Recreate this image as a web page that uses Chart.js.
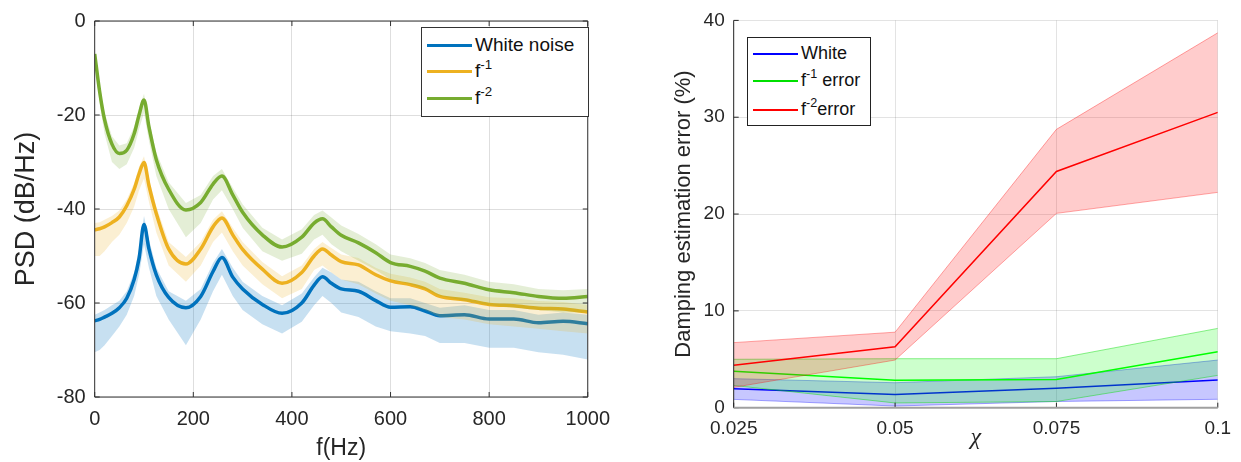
<!DOCTYPE html>
<html>
<head>
<meta charset="utf-8">
<script src="https://cdn.jsdelivr.net/npm/chart.js@4.4.1/dist/chart.umd.min.js"></script>
<style>
  body { margin: 0; background: #fff; width: 1241px; height: 462px; overflow: hidden; position: relative; font-family: 'Liberation Sans', Arial, sans-serif; }
  canvas { position: absolute; top: 0; }
  #psd { left: 0; }
  #damp { left: 640px; }
  .legend { position: absolute; background: #fff; box-sizing: border-box; color: #111; }
  .legend .row { position: absolute; left: 5px; height: 26px; line-height: 26px; white-space: nowrap; }
  .legend .row i { display: inline-block; vertical-align: middle; margin-right: 3px; }
  .legend sup { font-size: 0.7em; line-height: 0; vertical-align: 0.6em; }
  #legPsd { left: 421px; top: 27px; width: 168px; height: 90px; border: 1px solid #333; font-size: 19px; }
  #legPsd .row i { width: 45px; height: 3px; }
  #legDamp { left: 747px; top: 37px; width: 124px; height: 89px; border: 1.5px solid #222; font-size: 18px; }
  #legDamp .row i { width: 45px; height: 2px; }
</style>
</head>
<body>
<canvas id="psd" width="620" height="462"></canvas>
<canvas id="damp" width="601" height="462"></canvas>

<div class="legend" id="legPsd">
  <div class="row" style="top:4px"><i style="background:#0072BD"></i>White noise</div>
  <div class="row" style="top:30px"><i style="background:#EDB120"></i>f<sup>-1</sup></div>
  <div class="row" style="top:57px"><i style="background:#77AC30"></i>f<sup>-2</sup></div>
</div>
<div class="legend" id="legDamp">
  <div class="row" style="top:2px"><i style="background:#0000ff"></i>White</div>
  <div class="row" style="top:29px"><i style="background:#00e000"></i>f<sup>-1</sup> error</div>
  <div class="row" style="top:58px"><i style="background:#ff0000"></i>f<sup>-2</sup>error</div>
</div>

<script>
// ---- PSD panel data (frequency in Hz, level in dB/Hz) ----
const freq = [0, 10, 20, 35, 50, 65, 80, 90, 100, 110, 125, 150, 185, 215, 240, 258, 280, 300, 340, 380,
              420, 445, 462, 480, 500, 535, 570, 600, 640, 670, 700, 750, 800, 850, 900, 950, 1000];

const whiteSmooth = [-63.8, -63.5, -63.0, -62.2, -61.0, -59.0, -55.0, -50.5, -43.3, -48.5, -54.0, -58.8, -61.0, -58.6, -53.3, -50.3, -54.5, -57.0, -60.3, -62.2,
                     -60.0, -56.2, -54.4, -55.8, -57.0, -57.5, -59.5, -60.9, -60.8, -61.7, -62.7, -62.5, -63.4, -63.4, -64.2, -63.9, -64.4];
const whiteHi = [-62.5, -62, -61.5, -60.5, -59.5, -57.5, -53.5, -48.5, -41.5, -46.5, -52.5, -57.5, -59.5, -57, -51.5, -48.5, -52.5, -55.5, -58.5, -60.5,
                 -58, -54.5, -52.5, -53.5, -55, -55.5, -57.5, -59, -59, -60, -61, -60.5, -61.5, -61.5, -62.5, -62, -62.5];
const whiteLo = [-70.5, -70, -69, -67, -65, -62.5, -58.5, -54, -47.5, -52.5, -58.5, -63.5, -69, -63.5, -57.5, -54, -58.5, -61.5, -64.5, -66.5,
                 -64, -60.5, -58.5, -60, -62, -63, -65, -66, -66.5, -67, -68.5, -68.5, -69.5, -69.5, -70.5, -71, -72];

const pink1Smooth = [-44.4, -44.2, -43.8, -42.9, -41.7, -39.3, -35.8, -32.5, -30.1, -35.0, -41.0, -48.5, -51.7, -48.5, -43.8, -41.9, -45.5, -48.6, -52.8, -55.8,
                     -53.5, -50.0, -48.5, -49.8, -51.2, -51.9, -54.0, -55.3, -56.1, -57.0, -58.6, -59.3, -60.3, -60.6, -61.1, -61.3, -61.9];
const pink1Hi = [-43, -42.8, -42.3, -41.5, -40.3, -38, -34.5, -31, -28.8, -33.5, -39.5, -47, -50.2, -47, -42.3, -40.5, -44, -47, -51.3, -54.3,
                 -52, -48.5, -47, -48.3, -49.7, -50.4, -52.5, -53.8, -54.6, -55.5, -57, -57.8, -58.8, -59, -59.6, -59.8, -60.4];
const pink1Lo = [-50, -50, -49, -47, -45.5, -43, -39.5, -36, -33.5, -38.5, -45, -52, -55.5, -52, -47, -45, -49, -52, -56, -59,
                 -57, -53, -52, -53.5, -55, -56, -58, -59.5, -60.5, -61.5, -63, -63.5, -64.5, -65, -65.5, -66, -66.5];

const pink2Smooth = [-7.0, -15.0, -21.0, -26.2, -28.2, -27.5, -24.0, -20.0, -16.8, -22.5, -29.5, -35.8, -40.2, -38.6, -34.7, -33.0, -37.0, -40.7, -45.5, -48.1,
                     -46.0, -43.0, -42.1, -43.8, -45.6, -47.2, -49.3, -51.4, -52.2, -53.2, -54.7, -55.8, -57.2, -57.8, -58.6, -59.0, -58.6];
const pink2Hi = [-6, -13.5, -19.5, -24.5, -26.5, -26, -22.5, -18.5, -15.5, -21, -28, -34.3, -38.7, -37, -33, -31.5, -35.5, -39, -44, -46.5,
                 -44.3, -41.3, -40.3, -41.8, -43.5, -45.3, -47.5, -49.7, -50.5, -51.5, -53, -54, -55.5, -56, -57, -57.3, -57];
const pink2Lo = [-9, -17.5, -24, -30, -31.5, -30.5, -27, -23, -19.5, -25.5, -33, -40, -46, -43, -38, -36, -40, -44, -49, -51,
                 -49.5, -46.5, -45.5, -47.5, -49, -51, -53, -55, -56, -57, -58.5, -59.5, -60.5, -61, -61.5, -62, -62];

// ---- damping error panel data ----
const chi = [0.025, 0.05, 0.075, 0.1];
const chiLabels = ['0.025', '0.05', '0.075', '0.1'];
const whiteMean = [1.97, 1.36, 2.0, 2.85];
const whiteUp   = [3.0, 2.58, 3.2, 4.92];
const whiteDown = [0.86, 0.17, 0.64, 0.87];
const f1Mean = [3.76, 2.84, 2.92, 5.77];
const f1Up   = [5.0, 5.06, 5.06, 8.19];
const f1Down = [2.3, 0.49, 0.64, 3.34];
const f2Mean = [4.38, 6.3, 24.4, 30.5];
const f2Up   = [6.72, 7.8, 28.75, 38.72];
const f2Down = [2.1, 4.92, 20.07, 22.24];

Chart.defaults.font.family = "'Liberation Sans', Arial, sans-serif";
Chart.defaults.color = '#262626';

function pts(xs, ys) {
  return xs.map((x, i) => ({ x: x, y: ys[i] }));
}

// axis lines and inward tick marks, drawn on top of the data
const axisFrame = {
  id: 'axisFrame',
  afterDatasetsDraw(chart, args, o) {
    const { ctx, chartArea: a, scales } = chart;
    const xs = scales.x.ticks.map(t => scales.x.getPixelForValue(t.value));
    const ys = scales.y.ticks.map(t => scales.y.getPixelForValue(t.value));
    ctx.save();
    ctx.lineWidth = 1;
    ctx.strokeStyle = o.color;
    ctx.beginPath();
    xs.forEach(px => {
      ctx.moveTo(px, a.bottom); ctx.lineTo(px, a.bottom - o.tick);
      if (o.box) { ctx.moveTo(px, a.top); ctx.lineTo(px, a.top + o.tick); }
    });
    ys.forEach(py => {
      ctx.moveTo(a.left, py); ctx.lineTo(a.left + o.tick, py);
      if (o.box) { ctx.moveTo(a.right, py); ctx.lineTo(a.right - o.tick, py); }
    });
    ctx.moveTo(a.left, a.top); ctx.lineTo(a.left, a.bottom);
    if (o.box) { ctx.moveTo(a.left, a.top); ctx.lineTo(a.right, a.top); ctx.lineTo(a.right, a.bottom); }
    ctx.stroke();
    ctx.beginPath();
    ctx.strokeStyle = o.baseColor;
    ctx.lineWidth = o.baseWidth;
    ctx.moveTo(a.left, a.bottom); ctx.lineTo(a.right, a.bottom);
    ctx.stroke();
    ctx.restore();
  }
};

// noisy periodogram envelope + smoothed estimate for one noise colour
function psdSeries(hi, lo, smooth, col, haze, order) {
  return [
    { data: pts(freq, hi), borderWidth: 0, backgroundColor: haze, fill: '+1', order: order + 2 },
    { data: pts(freq, lo), borderWidth: 0, fill: false, order: order + 1 },
    { data: pts(freq, smooth), borderColor: col, borderWidth: 3.5, fill: false,
      cubicInterpolationMode: 'monotone', order: order }
  ];
}

new Chart(document.getElementById('psd'), {
  type: 'line',
  data: {
    datasets: [
      ...psdSeries(whiteHi, whiteLo, whiteSmooth, '#0072BD', 'rgba(0,114,189,0.22)', 60),
      ...psdSeries(pink1Hi, pink1Lo, pink1Smooth, '#EDB120', 'rgba(237,177,32,0.2)', 40),
      ...psdSeries(pink2Hi, pink2Lo, pink2Smooth, '#77AC30', 'rgba(119,172,48,0.2)', 20)
    ]
  },
  options: {
    responsive: false,
    animation: false,
    layout: { padding: { left: 0, top: 16, right: 28.6, bottom: 0 } },
    elements: { point: { radius: 0 }, line: { tension: 0 } },
    plugins: {
      legend: { display: false },
      tooltip: { enabled: false },
      axisFrame: { color: '#333', tick: 5, box: true, baseColor: '#333', baseWidth: 1 }
    },
    scales: {
      x: {
        type: 'linear', min: 0, max: 1000,
        ticks: { stepSize: 200, padding: 10, font: { size: 20 }, callback: v => String(v) },
        grid: { color: 'rgba(0,0,0,0.13)', drawTicks: false },
        border: { display: false },
        title: { display: true, text: 'f(Hz)', font: { size: 23 }, padding: { top: 0, bottom: 0 } },
        afterFit: s => { s.height = 65; }
      },
      y: {
        min: -80, max: 0,
        ticks: { stepSize: 20, padding: 9, font: { size: 20 }, callback: v => String(v) },
        grid: { color: 'rgba(0,0,0,0.13)', drawTicks: false },
        border: { display: false },
        title: { display: true, text: 'PSD (dB/Hz)', font: { size: 27 }, padding: { top: 10, bottom: 0 } },
        afterFit: s => { s.width = 94.7; }
      }
    }
  },
  plugins: [axisFrame]
});

// shaded spread between upper and lower estimates, plus the mean line
function errBand(up, down, mean, col, fillCol, edgeCol, order) {
  return [
    { data: pts(chi, up), borderColor: edgeCol, borderWidth: 1, backgroundColor: fillCol, fill: '+1', order: order + 2 },
    { data: pts(chi, down), borderColor: edgeCol, borderWidth: 1, fill: false, order: order + 1 },
    { data: pts(chi, mean), borderColor: col, borderWidth: 1.5, fill: false, order: order }
  ];
}

new Chart(document.getElementById('damp'), {
  type: 'line',
  data: {
    datasets: [
      ...errBand(whiteUp, whiteDown, whiteMean, '#0000ff', 'rgba(0,0,255,0.22)', 'rgba(0,0,255,0.35)', 60),
      ...errBand(f1Up, f1Down, f1Mean, '#00ff00', 'rgba(0,255,0,0.2)', 'rgba(0,220,0,0.45)', 40),
      ...errBand(f2Up, f2Down, f2Mean, '#ff0000', 'rgba(255,0,0,0.2)', 'rgba(255,0,0,0.35)', 20)
    ]
  },
  options: {
    responsive: false,
    animation: false,
    layout: { padding: { left: 0, top: 20.3, right: 17.3, bottom: 0 } },
    elements: { point: { radius: 0 }, line: { tension: 0 } },
    plugins: {
      legend: { display: false },
      tooltip: { enabled: false },
      axisFrame: { color: '#262626', tick: 5, box: false, baseColor: '#a0a0a0', baseWidth: 2 }
    },
    scales: {
      x: {
        type: 'linear', min: 0.025, max: 0.1,
        afterBuildTicks: s => { s.ticks = chi.map(v => ({ value: v })); },
        ticks: { padding: 10, font: { size: 19 }, callback: (v, i) => chiLabels[i] },
        grid: { color: 'rgba(0,0,0,0.11)', drawTicks: false },
        border: { display: false },
        title: { display: true, text: 'χ', font: { size: 24, family: "'Liberation Serif', 'DejaVu Serif', serif", style: 'italic' }, padding: { top: 0, bottom: 10 } },
        afterFit: s => { s.height = 54.3; }
      },
      y: {
        min: 0, max: 40,
        ticks: { stepSize: 10, padding: 9, font: { size: 19 } },
        grid: { color: 'rgba(0,0,0,0.11)', drawTicks: false },
        border: { display: false },
        title: { display: true, text: 'Damping estimation error (%)', font: { size: 22 }, padding: { top: 31, bottom: 0 } },
        afterFit: s => { s.width = 93.7; }
      }
    }
  },
  plugins: [axisFrame]
});
</script>
</body>
</html>
